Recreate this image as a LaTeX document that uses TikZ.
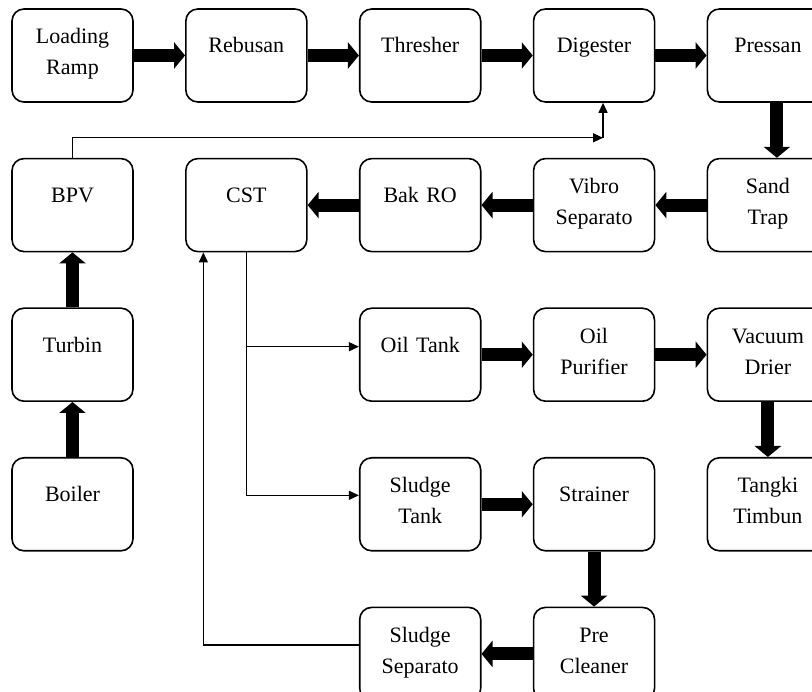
\documentclass[tikz,border=0pt]{standalone}
\usepackage{fontspec}
\setmainfont{Liberation Serif}
\usetikzlibrary{positioning,arrows.meta}

\begin{document}
\begin{tikzpicture}[node distance=55pt and 51.25pt,
		kotak/.style={draw, line width=1.6pt, rounded corners=12pt, text width=115pt, align=center,
			inner xsep=3pt, inner ysep=0pt, minimum width=121pt, text height=44pt, text depth=49pt,
			font=\fontsize{22pt}{31pt}\selectfont},
		kotak2/.style={kotak, text height=35pt, text depth=58pt},
		tebal/.style={line width=13pt, -{Triangle[length=11pt,width=26pt]}},
		tipis/.style={line width=1.3pt, -{Triangle[length=10pt,width=9pt]}}]
		\clip (-72.5pt,55.5pt) rectangle (739.5pt,-636.5pt);
		\node[kotak2] (loading) at (0,0) {Loading\\Ramp};
		\node[kotak, right=of loading] (rebusan) {Rebusan};
		\node[kotak, right=of rebusan] (thresher) {Thresher};
		\node[kotak, right=of thresher] (digester) {Digester};
		\node[kotak, right=of digester] (pressan) {Pressan};
		\node[kotak, below=of loading] (bpv) {BPV};
		\node[kotak, below=of rebusan] (cst) {CST};
		\node[kotak, below=of thresher] (bakro) {Bak RO};
		\node[kotak2, below=of digester] (vibro) {Vibro\\Separato};
		\node[kotak2, below=of pressan] (sandtrap) {Sand\\Trap};
		\node[kotak, below=of bpv] (turbin) {Turbin};
		\node[kotak, below=of bakro] (oiltank) {Oil Tank};
		\node[kotak2, below=of vibro] (purifier) {Oil\\Purifier};
		\node[kotak2, below=of sandtrap] (drier) {Vacuum\\Drier};
		\node[kotak, below=of turbin] (boiler) {Boiler};
		\node[kotak2, below=of oiltank] (sludgetank) {Sludge\\Tank};
		\node[kotak, below=of purifier] (strainer) {Strainer};
		\node[kotak2, below=of drier] (timbun) {Tangki\\Timbun};
		\node[kotak2, below=of sludgetank] (separator) {Sludge\\Separato};
		\node[kotak2, below=of strainer] (precleaner) {Pre\\Cleaner};

		\draw[tebal] (loading) -- (rebusan);
		\draw[tebal] (rebusan) -- (thresher);
		\draw[tebal] (thresher) -- (digester);
		\draw[tebal] (digester) -- (pressan);
		\draw[tebal] ([xshift=9pt]pressan.south) -- ([xshift=9pt]sandtrap.north);
		\draw[tebal] (sandtrap) -- (vibro);
		\draw[tebal] (vibro) -- (bakro);
		\draw[tebal] (bakro) -- (cst);
		\draw[tebal] (oiltank) -- (purifier);
		\draw[tebal] (purifier) -- (drier);
		\draw[tebal] (drier) -- (timbun);
		\draw[tebal] (sludgetank) -- (strainer);
		\draw[tebal] (strainer) -- (precleaner);
		\draw[tebal] (precleaner) -- (separator);
		\draw[tebal] (boiler) -- (turbin);
		\draw[tebal] (turbin) -- (bpv);

		\coordinate (balik) at ([xshift=9pt,yshift=-35pt]digester.south);
		\draw[tipis] (bpv.north) |- (balik);
		\draw[tipis] (balik) -- ([xshift=9pt]digester.south);
		\coordinate (cabang) at (cst.south |- oiltank.west);
		\draw[tipis] (cst.south) |- ([yshift=9pt]sludgetank.west);
		\draw[tipis] ([yshift=8pt]cabang) -- ([yshift=8pt]oiltank.west);
		\draw[tipis] ([yshift=9pt]separator.west) -| ([xshift=-43pt]cst.south);
	\end{tikzpicture}
\end{document}
